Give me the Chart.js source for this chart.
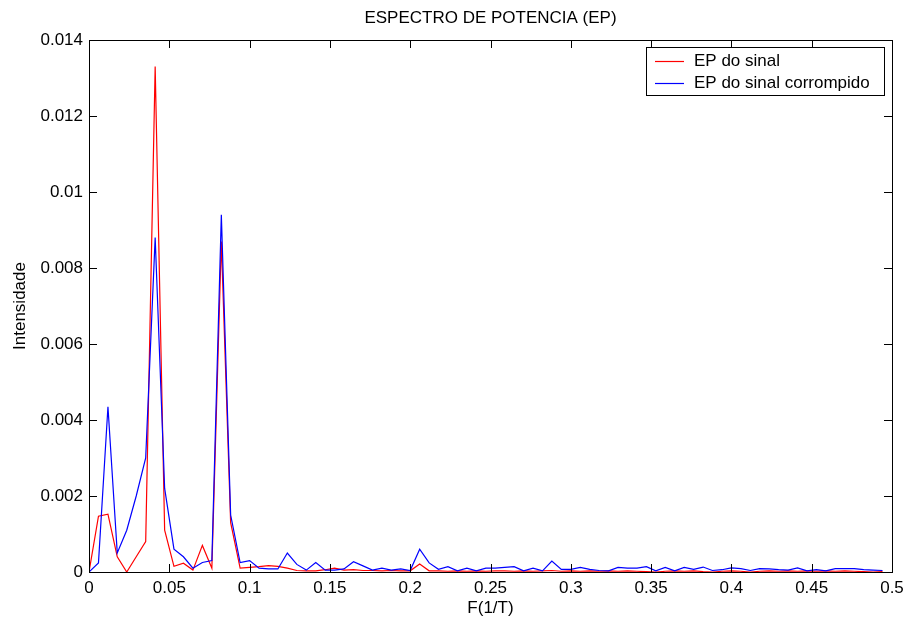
<!DOCTYPE html>
<html>
<head>
<meta charset="utf-8">
<script src="https://cdn.jsdelivr.net/npm/chart.js@4/dist/chart.umd.min.js"></script>
<style>
html,body{margin:0;padding:0;background:#ffffff;}
canvas{display:block;}
</style>
</head>
<body>
<canvas id="c" width="906" height="619"></canvas>
<script>
// ---- data ----
const frequencias = [
  0, 0.0059, 0.0118, 0.0176, 0.0235, 0.0294, 0.0353, 0.0412, 0.0471, 0.0529,
  0.0588, 0.0647, 0.0706, 0.0765, 0.0824, 0.0882, 0.0941, 0.1, 0.1059, 0.1118,
  0.1176, 0.1235, 0.1294, 0.1353, 0.1412, 0.1471, 0.1529, 0.1588, 0.1647, 0.1706,
  0.1765, 0.1824, 0.1882, 0.1941, 0.2, 0.2059, 0.2118, 0.2176, 0.2235, 0.2294,
  0.2353, 0.2412, 0.2471, 0.2529, 0.2588, 0.2647, 0.2706, 0.2765, 0.2824, 0.2882,
  0.2941, 0.3, 0.3059, 0.3118, 0.3176, 0.3235, 0.3294, 0.3353, 0.3412, 0.3471,
  0.3529, 0.3588, 0.3647, 0.3706, 0.3765, 0.3824, 0.3882, 0.3941, 0.4, 0.4059,
  0.4118, 0.4176, 0.4235, 0.4294, 0.4353, 0.4412, 0.4471, 0.4529, 0.4588, 0.4647,
  0.4706, 0.4765, 0.4824, 0.4882, 0.4941
];
const epSinal = [
  0, 0.00147, 0.00152, 0.0004, 0, 0.0004, 0.0008, 0.0133, 0.0011, 0.00015,
  0.00023, 0.00005, 0.0007, 0.0001, 0.0087, 0.0013, 0.0001, 0.00012, 0.00014, 0.00017,
  0.00015, 0.0001, 0.00004, 0.00003, 0.00003, 0.00006, 0.0001, 0.00005, 0.00006, 0.00004,
  0.00004, 0.00003, 0.00004, 0.00003, 0.00003, 0.00021, 0.00003, 0.00003, 0.00002, 0.00003,
  0.00002, 0.00003, 0.00002, 0.00003, 0.00003, 0.00002, 0.00003, 0.00002, 0.00003, 0.00004,
  0.00002, 0.00003, 0.00002, 0.00003, 0.00002, 0.00003, 0.00002, 0.00003, 0.00002, 0.00001,
  0, 0.00002, 0.00003, 0.00002, 0.00003, 0.00001, 0, 0.00002, 0.00003, 0.00002,
  0, 0.00002, 0.00003, 0.00002, 0.00003, 0.00002, 0.00003, 0.00002, 0.00003, 0.00002,
  0.00003, 0.00002, 0.00001, 0, 0.00001
];
const epCorrompido = [
  0, 0.00024, 0.00435, 0.0005, 0.0011, 0.002, 0.003, 0.0088, 0.0022, 0.0006,
  0.0004, 0.0001, 0.00025, 0.0003, 0.0094, 0.0015, 0.00025, 0.0003, 0.0001, 0.00008,
  0.00008, 0.0005, 0.0002, 0.00005, 0.00025, 0.00005, 0.00005, 0.00008, 0.00027, 0.00016,
  0.00005, 0.0001, 0.00005, 0.00008, 0.00004, 0.0006, 0.00024, 0.00007, 0.00014, 0.00003,
  0.0001, 0.00003, 0.0001, 0.0001, 0.00012, 0.00014, 0.00003, 0.0001, 0.00003, 0.00029,
  0.00007, 0.00007, 0.00012, 0.00007, 0.00004, 0.00003, 0.00012, 0.0001, 0.0001, 0.00014,
  0.00003, 0.00012, 0.00003, 0.00012, 0.00007, 0.00013, 0.00004, 0.00006, 0.00011, 0.00009,
  0.00004, 0.00009, 0.00008, 0.00006, 0.00005, 0.00011, 0.00003, 0.00006, 0.00003, 0.00009,
  0.00009, 0.00009, 0.00006, 0.00005, 0.00004
];
const xTicks = [0, 0.05, 0.1, 0.15, 0.2, 0.25, 0.3, 0.35, 0.4, 0.45, 0.5];
const yTicks = [0, 0.002, 0.004, 0.006, 0.008, 0.01, 0.012, 0.014];
const serieNomes = ['EP do sinal', 'EP do sinal corrompido'];
const serieCores = ['#ff0000', '#0000ff'];
const titulo = 'ESPECTRO DE POTENCIA (EP)';
const rotuloX = 'F(1/T)';
const rotuloY = 'Intensidade';

// ---- chart ----
const FAMILY = '"Liberation Sans", Arial, Helvetica, sans-serif';
const FS = 17;
Chart.defaults.font.family = FAMILY;
Chart.defaults.font.size = FS;
Chart.defaults.color = '#000000';

const pts = ys => frequencias.map((f, i) => ({ x: f, y: ys[i] }));

const tituloPlugin = {
  id: 'tituloPlugin',
  afterDraw(chart) {
    const ctx = chart.ctx, a = chart.chartArea;
    ctx.save();
    ctx.font = FS + 'px ' + FAMILY;
    ctx.fillStyle = '#000000';
    ctx.textAlign = 'center';
    ctx.textBaseline = 'middle';
    ctx.fillText(titulo, (a.left + a.right) / 2, 18.5);
    ctx.restore();
  }
};

const boxTicks = {
  id: 'boxTicks',
  afterDatasetsDraw(chart) {
    const ctx = chart.ctx, a = chart.chartArea;
    const xs = chart.scales.x, ys = chart.scales.y;
    const L = Math.round(a.left), R = Math.round(a.right), T = Math.round(a.top), B = Math.round(a.bottom);
    const tl = 8;
    ctx.save();
    ctx.strokeStyle = '#000000';
    ctx.lineWidth = 1;
    ctx.beginPath();
    xTicks.forEach(v => {
      const px = Math.round(xs.getPixelForValue(v)) + 0.5;
      ctx.moveTo(px, B); ctx.lineTo(px, B - tl);
      ctx.moveTo(px, T); ctx.lineTo(px, T + tl);
    });
    yTicks.forEach(v => {
      const py = Math.round(ys.getPixelForValue(v)) + 0.5;
      ctx.moveTo(L, py); ctx.lineTo(L + tl, py);
      ctx.moveTo(R, py); ctx.lineTo(R - tl, py);
    });
    ctx.stroke();
    ctx.strokeRect(L + 0.5, T + 0.5, R - L, B - T);
    ctx.restore();
  }
};

const legendaBox = {
  id: 'legendaBox',
  afterDraw(chart) {
    const ctx = chart.ctx, a = chart.chartArea;
    const w = 238, h = 48;
    const x0 = Math.round(a.right) - 8 - w, y0 = Math.round(a.top) + 7;
    ctx.save();
    ctx.fillStyle = '#ffffff';
    ctx.fillRect(x0, y0, w, h);
    ctx.strokeStyle = '#000000';
    ctx.lineWidth = 1;
    ctx.strokeRect(x0 + 0.5, y0 + 0.5, w, h);
    ctx.font = FS + 'px ' + FAMILY;
    ctx.textBaseline = 'middle';
    ctx.textAlign = 'left';
    serieNomes.forEach((nome, i) => {
      const y = Math.round(y0 + 14 + i * 21.5) + 0.5;
      ctx.strokeStyle = serieCores[i];
      ctx.lineWidth = 1.2;
      ctx.beginPath();
      ctx.moveTo(x0 + 9, y);
      ctx.lineTo(x0 + 38, y);
      ctx.stroke();
      ctx.fillStyle = '#000000';
      ctx.fillText(nome, x0 + 48, y);
    });
    ctx.restore();
  }
};

new Chart(document.getElementById('c'), {
  type: 'line',
  data: {
    datasets: [
      { label: serieNomes[0], data: pts(epSinal), borderColor: serieCores[0], borderWidth: 1.2, pointRadius: 0, tension: 0, fill: false, order: 1 },
      { label: serieNomes[1], data: pts(epCorrompido), borderColor: serieCores[1], borderWidth: 1.2, pointRadius: 0, tension: 0, fill: false, order: 0 }
    ]
  },
  options: {
    responsive: false,
    devicePixelRatio: 1,
    animation: false,
    layout: { padding: { left: 0, right: 14, top: 40, bottom: 0 } },
    plugins: {
      legend: { display: false },
      tooltip: { enabled: false },
      title: { display: false }
    },
    scales: {
      x: {
        type: 'linear', min: 0, max: 0.5,
        afterBuildTicks: s => { s.ticks = xTicks.map(v => ({ value: v })); },
        afterFit: s => { s.height = 47; s.paddingLeft = 0; s.paddingRight = 0; },
        grid: { display: false, drawTicks: false },
        border: { display: false },
        ticks: { color: '#000000', padding: 6, maxRotation: 0, autoSkip: false, callback: v => String(v) },
        title: { display: true, text: rotuloX, color: '#000000', padding: { top: 0, bottom: 0 } }
      },
      y: {
        type: 'linear', min: 0, max: 0.014,
        afterBuildTicks: s => { s.ticks = yTicks.map(v => ({ value: v })); },
        afterFit: s => { s.width = 89; s.paddingTop = 0; s.paddingBottom = 0; },
        grid: { display: false, drawTicks: false },
        border: { display: false },
        ticks: { color: '#000000', padding: 6, autoSkip: false, callback: v => String(v) },
        title: { display: true, text: rotuloY, color: '#000000', padding: { top: 10, bottom: 0 } }
      }
    }
  },
  plugins: [boxTicks, legendaBox, tituloPlugin]
});
</script>
</body>
</html>
